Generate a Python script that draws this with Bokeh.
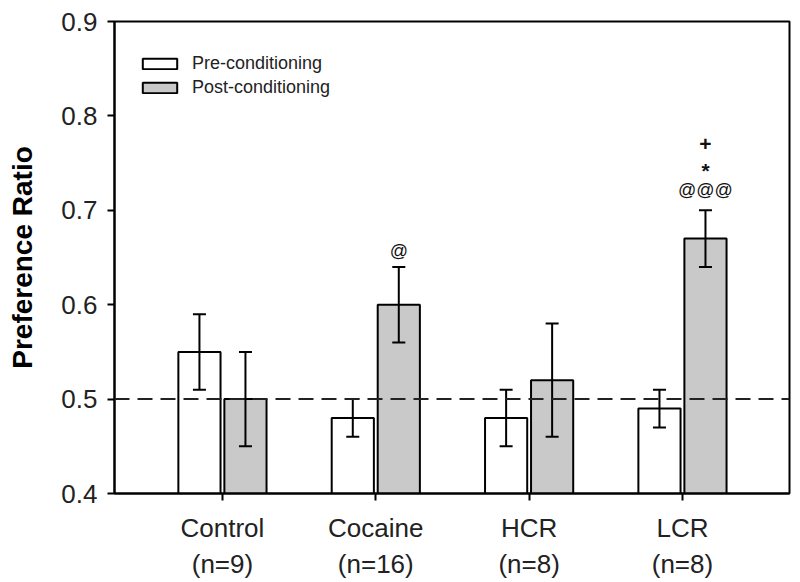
from bokeh.plotting import figure
from bokeh.models import (ColumnDataSource, Whisker, Span, Legend, LegendItem,
                          FixedTicker, PrintfTickFormatter, Range1d, TeeHead)
from bokeh.core.properties import value
from bokeh.embed import file_html
from bokeh.resources import INLINE

categories = ["Control", "Cocaine", "HCR", "LCR"]
n_labels = ["(n=9)", "(n=16)", "(n=8)", "(n=8)"]
pre_mean = [0.55, 0.48, 0.48, 0.49]
pre_err = [0.04, 0.02, 0.03, 0.02]
post_mean = [0.50, 0.60, 0.52, 0.67]
post_err = [0.05, 0.04, 0.06, 0.03]

at_cat = ["Cocaine", "LCR"]
at_text = ["@", "@@@"]
at_y = [0.657, 0.721]
sym_cat = ["LCR", "LCR"]
sym_text = ["*", "+"]
sym_y = [0.742, 0.770]

y_ticks = [0.4, 0.5, 0.6, 0.7, 0.8, 0.9]
chance_level = 0.5

FONT = "Liberation Sans"
OFF = 0.15
BW = 0.275

xs = [i + 1 for i in range(len(categories))]
pre_x = [x - OFF for x in xs]
post_x = [x + OFF for x in xs]

pre_src = ColumnDataSource(dict(x=pre_x, top=pre_mean,
                                upper=[m + e for m, e in zip(pre_mean, pre_err)],
                                lower=[m - e for m, e in zip(pre_mean, pre_err)]))
post_src = ColumnDataSource(dict(x=post_x, top=post_mean,
                                 upper=[m + e for m, e in zip(post_mean, post_err)],
                                 lower=[m - e for m, e in zip(post_mean, post_err)]))

p = figure(width=792, height=582, x_range=Range1d(0.296, 4.698),
           y_range=Range1d(0.4, 0.9), output_backend="svg", toolbar_location=None,
           min_border_left=114, min_border_top=21, min_border_right=3,
           min_border_bottom=89)

r_pre = p.vbar(x="x", top="top", bottom=0.4, width=BW, source=pre_src,
               fill_color="white", line_color="black", line_width=2)
r_post = p.vbar(x="x", top="top", bottom=0.4, width=BW, source=post_src,
                fill_color="#c9c9c9", line_color="black", line_width=2)

for src in (pre_src, post_src):
    w = Whisker(base="x", upper="upper", lower="lower", source=src,
                line_color="black", line_width=2, level="overlay",
                upper_head=TeeHead(size=13, line_width=2, line_color="black"),
                lower_head=TeeHead(size=13, line_width=2, line_color="black"))
    p.add_layout(w)

p.add_layout(Span(location=chance_level, dimension="width", line_dash="15 8",
                  line_width=2, line_color="#222222", level="overlay"))

at_x = [categories.index(c) + 1 + OFF for c in at_cat]
p.text(x=at_x, y=at_y, text=at_text, text_align="center",
       text_baseline="middle", text_font=value(FONT), text_font_size="18px",
       text_color="#111111")
sym_x = [categories.index(c) + 1 + OFF for c in sym_cat]
p.text(x=sym_x, y=sym_y, text=sym_text, text_align="center",
       text_baseline="middle", text_font=value(FONT), text_font_size="21px",
       text_font_style="bold", text_color="#111111")

legend = Legend(items=[LegendItem(label="Pre-conditioning", renderers=[r_pre]),
                       LegendItem(label="Post-conditioning", renderers=[r_post])],
                location=(24, 394), glyph_width=43, glyph_height=13,
                label_height=24, spacing=0, label_standoff=11, padding=0,
                margin=0, border_line_alpha=0, background_fill_alpha=0,
                label_text_font=FONT, label_text_font_size="18px",
                label_text_color="#222222")
p.add_layout(legend)

p.xgrid.visible = False
p.ygrid.visible = False
p.outline_line_color = "black"
p.outline_line_width = 2
p.outline_line_alpha = 1

p.xaxis.ticker = FixedTicker(ticks=xs)
p.xaxis.major_label_overrides = {x: f"{c}\n{n}" for x, c, n in zip(xs, categories, n_labels)}
p.yaxis.ticker = FixedTicker(ticks=y_ticks)
p.yaxis.formatter = PrintfTickFormatter(format="%.1f")

for ax in (p.xaxis[0], p.yaxis[0]):
    ax.axis_line_width = 2
    ax.axis_line_color = "black"
    ax.major_tick_line_width = 2
    ax.major_tick_line_color = "black"
    ax.major_tick_out = 7
    ax.major_tick_in = 0
    ax.minor_tick_line_color = None
    ax.major_label_text_font = FONT
    ax.major_label_text_font_size = "26px"
    ax.major_label_text_color = "#222222"

p.xaxis.major_label_standoff = 12
p.yaxis.major_label_standoff = 10
p.yaxis.axis_label = "Preference Ratio"
p.yaxis.axis_label_text_font = FONT
p.yaxis.axis_label_text_font_style = "bold"
p.yaxis.axis_label_text_font_size = "28px"
p.yaxis.axis_label_text_color = "black"
p.yaxis.axis_label_standoff = 20

open("out.html", "w").write(file_html(p, INLINE))
